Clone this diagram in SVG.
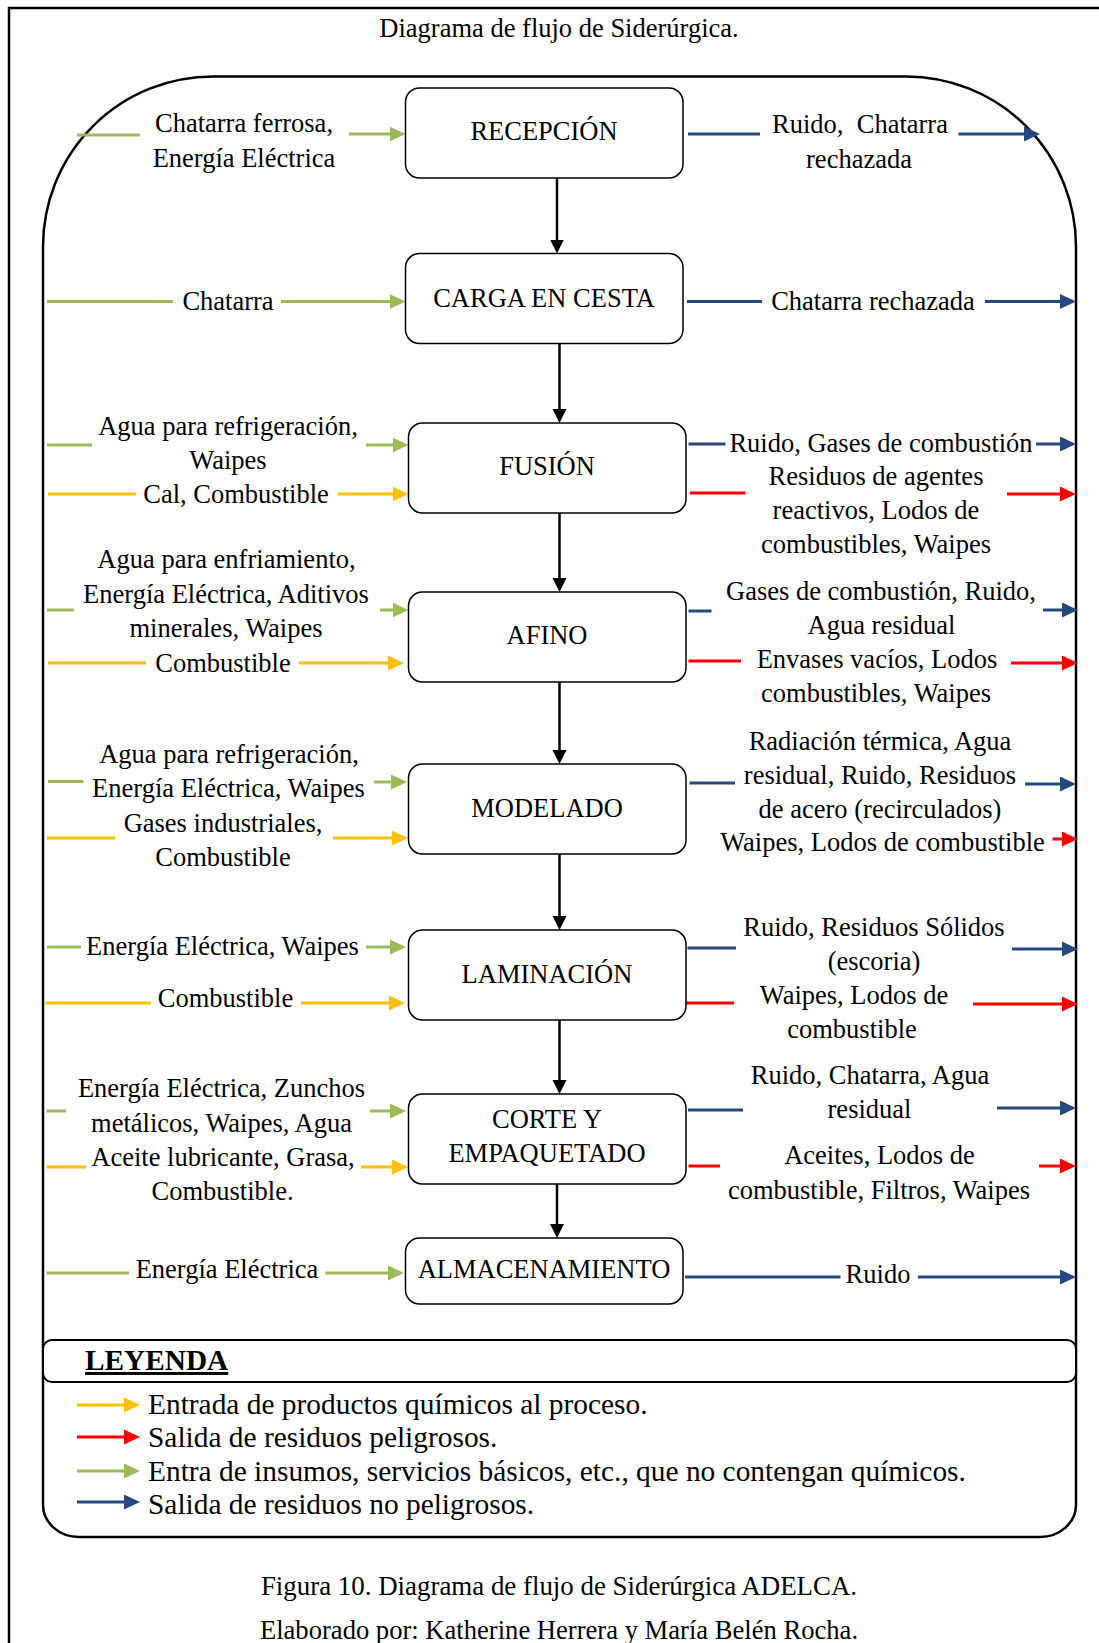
<svg xmlns="http://www.w3.org/2000/svg" width="1099" height="1643" viewBox="0 0 1099 1643">
  <defs>
    <style>
      text { font-family: "Liberation Serif", "Times New Roman", serif; font-size: 26.5px; fill: #000; }
      .c { text-anchor: middle; }
      .legend { font-size: 29.4px; }
      .title-leg { font-size: 29.3px; font-weight: bold; text-decoration: underline; }
      .cap { font-size: 26.9px; }
      .cap2 { font-size: 26.6px; }
      .box { fill: #fff; stroke: #000; stroke-width: 1.5; }
      .flow { stroke: #000; stroke-width: 2.5; fill: none; }
      .g { stroke: #9BBB59; stroke-width: 3; fill: none; }
      .y { stroke: #FFC000; stroke-width: 3; fill: none; }
      .r { stroke: #FF0000; stroke-width: 3; fill: none; }
      .b { stroke: #24487F; stroke-width: 3; fill: none; }
    </style>
    <!-- arrowheads: tip sits 6px beyond the end of the line -->
    <marker id="mk" markerUnits="userSpaceOnUse" markerWidth="15" markerHeight="15" refX="8" refY="7" orient="auto">
      <path d="M0,0 L14,7 L0,14 Z" fill="#000"/>
    </marker>
    <marker id="mg" markerUnits="userSpaceOnUse" markerWidth="17" markerHeight="16" refX="10" refY="7.5" orient="auto">
      <path d="M0,0 L16,7.5 L0,15 Z" fill="#9BBB59"/>
    </marker>
    <marker id="my" markerUnits="userSpaceOnUse" markerWidth="17" markerHeight="16" refX="10" refY="7.5" orient="auto">
      <path d="M0,0 L16,7.5 L0,15 Z" fill="#FFC000"/>
    </marker>
    <marker id="mr" markerUnits="userSpaceOnUse" markerWidth="17" markerHeight="16" refX="10" refY="7.5" orient="auto">
      <path d="M0,0 L16,7.5 L0,15 Z" fill="#FF0000"/>
    </marker>
    <marker id="mb" markerUnits="userSpaceOnUse" markerWidth="17" markerHeight="16" refX="10" refY="7.5" orient="auto">
      <path d="M0,0 L16,7.5 L0,15 Z" fill="#24487F"/>
    </marker>
  </defs>

  <rect x="0" y="0" width="1099" height="1643" fill="#fff"/>

  <!-- page frame -->
  <path d="M9,1643 L9,8 L1099,8" fill="none" stroke="#000" stroke-width="2.5"/>

  <text class="c" x="559" y="37">Diagrama de flujo de Siderúrgica.</text>

  <!-- process container -->
  <path d="M213,76.5 L906,76.5 A170,170 0 0 1 1076,246.5 L1076,1505 A36,32 0 0 1 1040,1537 L79,1537 A36,32 0 0 1 43,1505 L43,246.5 A170,170 0 0 1 213,76.5 Z" fill="none" stroke="#000" stroke-width="2.5"/>

  <!-- connectors -->
  <g id="connectors">
    <!-- main flow -->
    <line class="flow" x1="557" y1="178" x2="557" y2="247.5" marker-end="url(#mk)"/>
    <line class="flow" x1="559.5" y1="343.5" x2="559.5" y2="417" marker-end="url(#mk)"/>
    <line class="flow" x1="559.5" y1="513" x2="559.5" y2="586" marker-end="url(#mk)"/>
    <line class="flow" x1="559.5" y1="682" x2="559.5" y2="758" marker-end="url(#mk)"/>
    <line class="flow" x1="559.5" y1="854" x2="559.5" y2="924" marker-end="url(#mk)"/>
    <line class="flow" x1="559.5" y1="1020" x2="559.5" y2="1088" marker-end="url(#mk)"/>
    <line class="flow" x1="557" y1="1184" x2="557" y2="1232" marker-end="url(#mk)"/>

    <!-- RECEPCION -->
    <line class="g" x1="77" y1="135" x2="140" y2="135"/>
    <line class="g" x1="349" y1="134" x2="399.5" y2="134" marker-end="url(#mg)"/>
    <line class="b" x1="688" y1="134" x2="760" y2="134"/>
    <line class="b" x1="958.5" y1="134" x2="1034" y2="134" marker-end="url(#mb)"/>

    <!-- CARGA EN CESTA -->
    <line class="g" x1="47" y1="301.5" x2="173" y2="301.5"/>
    <line class="g" x1="281" y1="301.5" x2="399.5" y2="301.5" marker-end="url(#mg)"/>
    <line class="b" x1="687" y1="301.5" x2="762" y2="301.5"/>
    <line class="b" x1="985" y1="301.5" x2="1070" y2="301.5" marker-end="url(#mb)"/>

    <!-- FUSION -->
    <line class="g" x1="47" y1="445" x2="92" y2="445"/>
    <line class="g" x1="366" y1="445" x2="402.5" y2="445" marker-end="url(#mg)"/>
    <line class="y" x1="48" y1="494" x2="136" y2="494"/>
    <line class="y" x1="337.5" y1="494" x2="402.5" y2="494" marker-end="url(#my)"/>
    <line class="b" x1="688.5" y1="444" x2="725.5" y2="444"/>
    <line class="b" x1="1036" y1="444" x2="1070" y2="444" marker-end="url(#mb)"/>
    <line class="r" x1="690" y1="493" x2="745.5" y2="493"/>
    <line class="r" x1="1007" y1="494" x2="1070" y2="494" marker-end="url(#mr)"/>

    <!-- AFINO -->
    <line class="g" x1="47" y1="610" x2="74" y2="610"/>
    <line class="g" x1="380" y1="610" x2="402.5" y2="610" marker-end="url(#mg)"/>
    <line class="y" x1="48" y1="663" x2="146" y2="663"/>
    <line class="y" x1="299" y1="663" x2="398" y2="663" marker-end="url(#my)"/>
    <line class="b" x1="688.5" y1="611" x2="711.5" y2="611"/>
    <line class="b" x1="1043" y1="610" x2="1072" y2="610" marker-end="url(#mb)"/>
    <line class="r" x1="688.5" y1="661" x2="741" y2="661"/>
    <line class="r" x1="1011" y1="663" x2="1072" y2="663" marker-end="url(#mr)"/>

    <!-- MODELADO -->
    <line class="g" x1="48" y1="781.5" x2="83.5" y2="781.5"/>
    <line class="g" x1="374" y1="782" x2="401" y2="782" marker-end="url(#mg)"/>
    <line class="y" x1="47" y1="838" x2="115" y2="838"/>
    <line class="y" x1="333" y1="838" x2="402" y2="838" marker-end="url(#my)"/>
    <line class="b" x1="689.5" y1="783" x2="735" y2="783"/>
    <line class="b" x1="1025" y1="784" x2="1070" y2="784" marker-end="url(#mb)"/>
    <line class="r" x1="1052.5" y1="839" x2="1072" y2="839" marker-end="url(#mr)"/>

    <!-- LAMINACION -->
    <line class="g" x1="47" y1="947" x2="81" y2="947"/>
    <line class="g" x1="366" y1="947" x2="400" y2="947" marker-end="url(#mg)"/>
    <line class="y" x1="45.5" y1="1003" x2="151" y2="1003"/>
    <line class="y" x1="301" y1="1003" x2="399" y2="1003" marker-end="url(#my)"/>
    <line class="b" x1="687.5" y1="948" x2="736" y2="948"/>
    <line class="b" x1="1012" y1="949" x2="1072" y2="949" marker-end="url(#mb)"/>
    <line class="r" x1="686" y1="1003" x2="734" y2="1003"/>
    <line class="r" x1="973" y1="1004" x2="1072" y2="1004" marker-end="url(#mr)"/>

    <!-- CORTE Y EMPAQUETADO -->
    <line class="g" x1="46.5" y1="1111" x2="66" y2="1111"/>
    <line class="g" x1="370" y1="1111" x2="400" y2="1111" marker-end="url(#mg)"/>
    <line class="y" x1="46.5" y1="1167" x2="86" y2="1167"/>
    <line class="y" x1="361" y1="1167" x2="402" y2="1167" marker-end="url(#my)"/>
    <line class="b" x1="688" y1="1110" x2="743" y2="1110"/>
    <line class="b" x1="997" y1="1108" x2="1070" y2="1108" marker-end="url(#mb)"/>
    <line class="r" x1="688.5" y1="1166" x2="720" y2="1166"/>
    <line class="r" x1="1039" y1="1166" x2="1070" y2="1166" marker-end="url(#mr)"/>

    <!-- ALMACENAMIENTO -->
    <line class="g" x1="46.5" y1="1273" x2="129" y2="1273"/>
    <line class="g" x1="325.5" y1="1273" x2="398" y2="1273" marker-end="url(#mg)"/>
    <line class="b" x1="685" y1="1277" x2="840.5" y2="1277"/>
    <line class="b" x1="918" y1="1277" x2="1070" y2="1277" marker-end="url(#mb)"/>
  </g>

  <!-- process steps -->
  <g id="recepcion">
    <rect class="box" x="405.5" y="88" width="277.5" height="90" rx="14"/>
    <text class="c" x="544" y="140">RECEPCIÓN</text>
    <text class="c" x="244" y="132">Chatarra ferrosa,</text>
    <text class="c" x="244" y="166.5">Energía Eléctrica</text>
    <text class="c" x="860" y="133" xml:space="preserve">Ruido,  Chatarra</text>
    <text class="c" x="859" y="168">rechazada</text>
  </g>

  <g id="carga">
    <rect class="box" x="405.5" y="253.5" width="277.5" height="90" rx="14"/>
    <text class="c" x="544" y="306.5">CARGA EN CESTA</text>
    <text class="c" x="228" y="310">Chatarra</text>
    <text class="c" x="873" y="310">Chatarra rechazada</text>
  </g>

  <g id="fusion">
    <rect class="box" x="408.5" y="423" width="277.5" height="90" rx="14"/>
    <text class="c" x="547" y="475">FUSIÓN</text>
    <text class="c" x="228" y="435">Agua para refrigeración,</text>
    <text class="c" x="228" y="469">Waipes</text>
    <text class="c" x="236" y="503">Cal, Combustible</text>
    <text class="c" x="881" y="452">Ruido, Gases de combustión</text>
    <text class="c" x="876" y="485">Residuos de agentes</text>
    <text class="c" x="876" y="519">reactivos, Lodos de</text>
    <text class="c" x="876" y="553">combustibles, Waipes</text>
  </g>

  <g id="afino">
    <rect class="box" x="408.5" y="592" width="277.5" height="90" rx="14"/>
    <text class="c" x="547" y="644">AFINO</text>
    <text class="c" x="226.5" y="568">Agua para enfriamiento,</text>
    <text class="c" x="226" y="603">Energía Eléctrica, Aditivos</text>
    <text class="c" x="226" y="637">minerales, Waipes</text>
    <text class="c" x="223" y="672">Combustible</text>
    <text class="c" x="881" y="600">Gases de combustión, Ruido,</text>
    <text class="c" x="881.5" y="634">Agua residual</text>
    <text class="c" x="877" y="668">Envases vacíos, Lodos</text>
    <text class="c" x="876" y="702">combustibles, Waipes</text>
  </g>

  <g id="modelado">
    <rect class="box" x="408.5" y="764" width="277.5" height="90" rx="14"/>
    <text class="c" x="547" y="817">MODELADO</text>
    <text class="c" x="229" y="763">Agua para refrigeración,</text>
    <text class="c" x="228.5" y="797">Energía Eléctrica, Waipes</text>
    <text class="c" x="223" y="832">Gases industriales,</text>
    <text class="c" x="223" y="866">Combustible</text>
    <text class="c" x="880" y="750">Radiación térmica, Agua</text>
    <text class="c" x="880" y="784">residual, Ruido, Residuos</text>
    <text class="c" x="880" y="818">de acero (recirculados)</text>
    <text class="c" x="882.5" y="851">Waipes, Lodos de combustible</text>
  </g>

  <g id="laminacion">
    <rect class="box" x="408.5" y="930" width="277.5" height="90" rx="14"/>
    <text class="c" x="547" y="983">LAMINACIÓN</text>
    <text class="c" x="222.5" y="955">Energía Eléctrica, Waipes</text>
    <text class="c" x="225.5" y="1007">Combustible</text>
    <text class="c" x="874" y="936">Ruido, Residuos Sólidos</text>
    <text class="c" x="874" y="970">(escoria)</text>
    <text class="c" x="854" y="1004">Waipes, Lodos de</text>
    <text class="c" x="852" y="1038">combustible</text>
  </g>

  <g id="corte">
    <rect class="box" x="408.5" y="1094" width="277.5" height="90" rx="14"/>
    <text class="c" x="547" y="1128">CORTE Y</text>
    <text class="c" x="547" y="1162">EMPAQUETADO</text>
    <text class="c" x="221.5" y="1097">Energía Eléctrica, Zunchos</text>
    <text class="c" x="221.5" y="1132">metálicos, Waipes, Agua</text>
    <text class="c" x="223" y="1166">Aceite lubricante, Grasa,</text>
    <text class="c" x="222.5" y="1200">Combustible.</text>
    <text class="c" x="870" y="1084">Ruido, Chatarra, Agua</text>
    <text class="c" x="869.5" y="1118">residual</text>
    <text class="c" x="879.5" y="1164">Aceites, Lodos de</text>
    <text class="c" x="879" y="1199">combustible, Filtros, Waipes</text>
  </g>

  <g id="almacenamiento">
    <rect class="box" x="405.5" y="1238" width="277.5" height="66" rx="14"/>
    <text class="c" x="544" y="1278">ALMACENAMIENTO</text>
    <text class="c" x="227" y="1278">Energía Eléctrica</text>
    <text class="c" x="878" y="1283">Ruido</text>
  </g>

  <!-- legend -->
  <g id="leyenda">
    <rect x="43" y="1340" width="1033" height="42" rx="9" fill="#fff" stroke="#000" stroke-width="2"/>
    <text class="title-leg" x="85" y="1370">LEYENDA</text>
    <line class="y" x1="77" y1="1405" x2="134" y2="1405" marker-end="url(#my)"/>
    <text class="legend" x="148" y="1414">Entrada de productos químicos al proceso.</text>
    <line class="r" x1="77" y1="1437" x2="134" y2="1437" marker-end="url(#mr)"/>
    <text class="legend" x="148" y="1447">Salida de residuos peligrosos.</text>
    <line class="g" x1="77" y1="1471" x2="134" y2="1471" marker-end="url(#mg)"/>
    <text class="legend" x="148" y="1481">Entra de insumos, servicios básicos, etc., que no contengan químicos.</text>
    <line class="b" x1="77" y1="1502" x2="134" y2="1502" marker-end="url(#mb)"/>
    <text class="legend" x="148" y="1514">Salida de residuos no peligrosos.</text>
  </g>

  <!-- caption -->
  <text class="c cap" x="559" y="1595">Figura 10. Diagrama de flujo de Siderúrgica ADELCA.</text>
  <text class="c cap2" x="559" y="1639">Elaborado por: Katherine Herrera y María Belén Rocha.</text>
</svg>
